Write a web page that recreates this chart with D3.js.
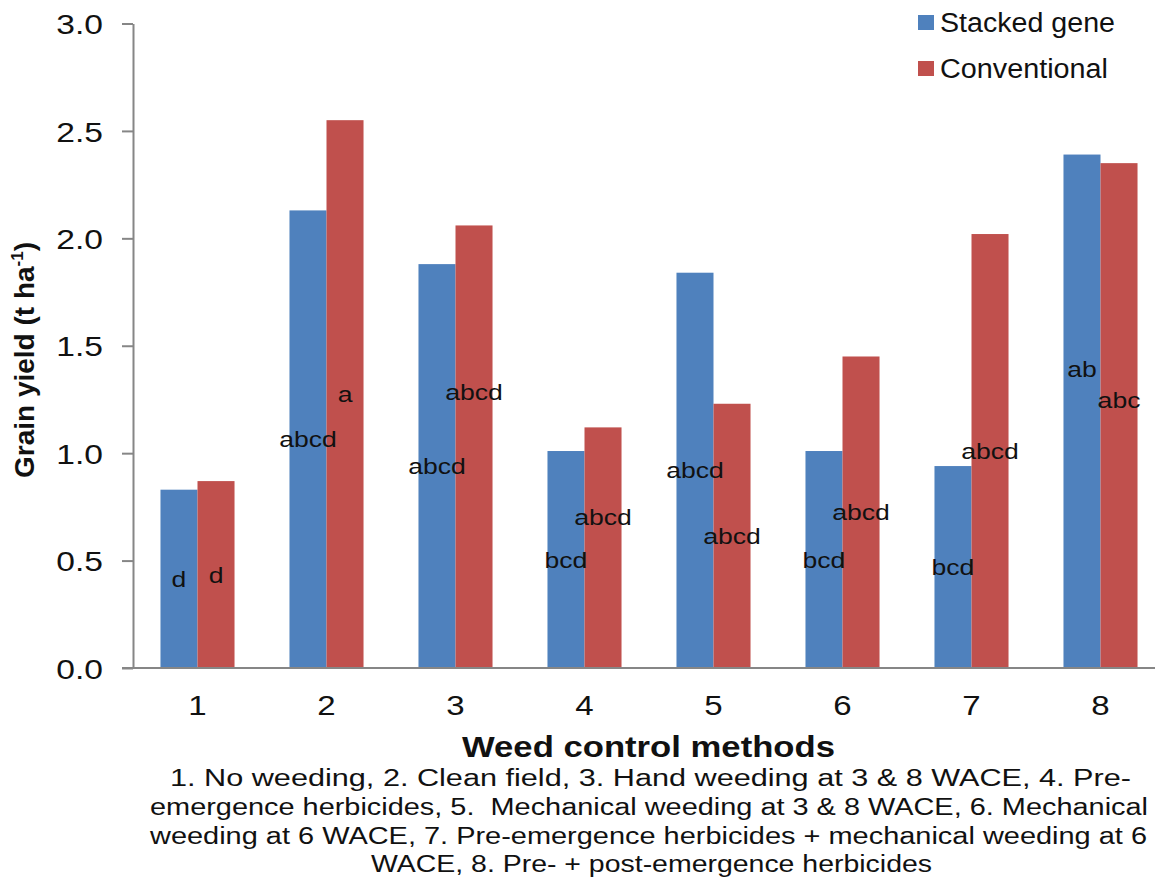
<!DOCTYPE html>
<html>
<head>
<meta charset="utf-8">
<script src="https://cdn.jsdelivr.net/npm/d3@7"></script>
<style>
  html, body { margin: 0; padding: 0; background: #fff; }
  svg { display: block; font-family: "Liberation Sans", Arial, sans-serif; }
  .cap { white-space: pre; }
</style>
</head>
<body>
<svg id="chart" width="1155" height="879"></svg>
<script>
const categories = ["1", "2", "3", "4", "5", "6", "7", "8"];
const seriesNames = ["Stacked gene", "Conventional"];
const stackedGene = [0.83, 2.13, 1.88, 1.01, 1.84, 1.01, 0.94, 2.39];
const conventional = [0.87, 2.55, 2.06, 1.12, 1.23, 1.45, 2.02, 2.35];
const stackedLetters = ["d", "abcd", "abcd", "bcd", "abcd", "bcd", "bcd", "ab"];
const conventionalLetters = ["d", "a", "abcd", "abcd", "abcd", "abcd", "abcd", "abc"];
const stackedLetterAt = [0.415, 1.065, 0.94, 0.505, 0.92, 0.505, 0.47, 1.39];
const conventionalLetterAt = [0.435, 1.275, 1.285, 0.705, 0.615, 0.725, 1.01, 1.25];
const yTicks = [0, 0.5, 1.0, 1.5, 2.0, 2.5, 3.0];
const captionLines = [
  "1. No weeding, 2. Clean field, 3. Hand weeding at 3 & 8 WACE, 4. Pre-",
  "emergence herbicides, 5.  Mechanical weeding at 3 & 8 WACE, 6. Mechanical",
  "weeding at 6 WACE, 7. Pre-emergence herbicides + mechanical weeding at 6",
  "WACE, 8. Pre- + post-emergence herbicides"
];

const colors = ["#4F81BD", "#C0504D"];
const svg = d3.select("#chart");

const plotLeft = 133, plotTop = 23.5, plotBottom = 668, plotRight = 1165;

const x = d3.scaleBand().domain(categories).range([plotLeft, plotRight])
  .paddingInner(0.426).paddingOuter(0.213);
const xs = d3.scaleBand().domain([0, 1]).range([0, x.bandwidth()]);
const y = d3.scaleLinear().domain([0, 3]).range([plotBottom, plotTop]);

const rows = categories.map((c, i) => ({
  cat: c,
  vals: [
    { s: 0, v: stackedGene[i], lab: stackedLetters[i], at: stackedLetterAt[i] },
    { s: 1, v: conventional[i], lab: conventionalLetters[i], at: conventionalLetterAt[i] }
  ]
}));

// Bars
const g = svg.append("g");
const groups = g.selectAll("g.grp").data(rows).join("g")
  .attr("class", "grp")
  .attr("transform", d => `translate(${x(d.cat)},0)`);
groups.selectAll("rect").data(d => d.vals).join("rect")
  .attr("x", d => xs(d.s))
  .attr("width", xs.bandwidth())
  .attr("y", d => y(d.v))
  .attr("height", d => y(0) - y(d.v))
  .attr("fill", d => colors[d.s]);

// Letter labels
groups.selectAll("text").data(d => d.vals).join("text")
  .attr("transform", d => `translate(${xs(d.s) + xs.bandwidth() / 2},${y(d.at)}) scale(1.18,1)`)
  .attr("text-anchor", "middle")
  .attr("dy", "0.36em")
  .attr("font-size", 22.5)
  .attr("fill", "#111")
  .text(d => d.lab);

// Y axis
const yAxis = d3.axisLeft(y).tickValues(yTicks).tickSize(11).tickSizeOuter(0)
  .tickFormat(d3.format(".1f"));
const ya = svg.append("g").attr("transform", `translate(${plotLeft},0)`).call(yAxis);
ya.select(".domain").attr("stroke", "#868686").attr("stroke-width", 2);
ya.selectAll(".tick line").attr("stroke", "#868686").attr("stroke-width", 2);
ya.selectAll(".tick text")
  .attr("x", null)
  .attr("transform", "translate(-30,0) scale(1.2,1)")
  .attr("dy", "0.36em")
  .attr("font-size", 28)
  .attr("fill", "#111")
  .attr("font-family", "Liberation Sans, Arial, sans-serif");

// X axis
const xAxis = d3.axisBottom(x).tickSize(0).tickSizeOuter(0);
const xa = svg.append("g").attr("transform", `translate(0,${plotBottom})`).call(xAxis);
xa.select(".domain").attr("d", `M${plotLeft - 11},0H${1155}`).attr("stroke", "#868686").attr("stroke-width", 2);
xa.selectAll(".tick text")
  .attr("y", null)
  .attr("transform", "translate(0,37) scale(1.18,1)")
  .attr("dy", "0.36em")
  .attr("font-size", 28)
  .attr("fill", "#111")
  .attr("font-family", "Liberation Sans, Arial, sans-serif");

// Y title
const yt = svg.append("text")
  .attr("transform", "translate(34,478) rotate(-90)")
  .attr("font-size", 28)
  .attr("font-weight", "bold")
  .attr("fill", "#111");
yt.append("tspan").text("Grain yield (t ha");
yt.append("tspan").attr("font-size", 17).attr("dy", -11).text("-1");
yt.append("tspan").attr("dy", 11).text(")");

// X title
svg.append("text")
  .attr("x", 462).attr("y", 757)
  .attr("font-size", 30)
  .attr("font-weight", "bold")
  .attr("fill", "#111")
  .attr("textLength", 373)
  .attr("lengthAdjust", "spacingAndGlyphs")
  .text("Weed control methods");

// Caption
const capX = [170, 150, 150, 371];
const capW = [961, 998, 997, 561];
const capY = [786, 815, 844, 872];
captionLines.forEach((t, i) => {
  svg.append("text")
    .attr("class", "cap")
    .attr("x", capX[i]).attr("y", capY[i])
    .attr("font-size", 23.5)
    .attr("fill", "#111")
    .attr("textLength", capW[i])
    .attr("lengthAdjust", "spacingAndGlyphs")
    .text(t);
});

// Legend
const legW = [175, 168];
const leg = svg.append("g");
seriesNames.forEach((n, i) => {
  leg.append("rect")
    .attr("x", 918).attr("y", 15 + i * 46)
    .attr("width", 16).attr("height", 15)
    .attr("fill", colors[i]);
  leg.append("text")
    .attr("x", 940).attr("y", 32 + i * 46)
    .attr("font-size", 27)
    .attr("fill", "#111")
    .attr("textLength", legW[i])
    .attr("lengthAdjust", "spacingAndGlyphs")
    .text(n);
});
</script>
</body>
</html>
